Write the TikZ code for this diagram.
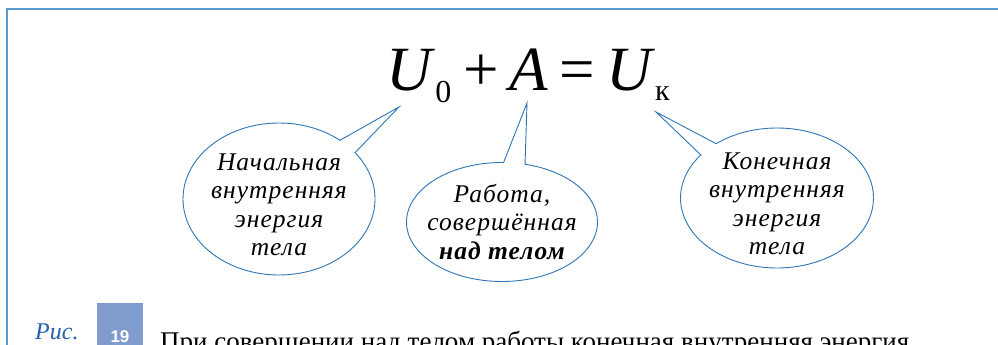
\documentclass[tikz,border=0pt]{standalone}
\usepackage{fontspec}
\setmainfont{Liberation Serif}
\newfontfamily\numfont{Liberation Sans}
\newfontfamily\bubblefont[LetterSpace=4]{Liberation Serif}
\usepackage{tikz}
\usetikzlibrary{shapes.callouts}
\definecolor{bubbleblue}{RGB}{46,117,182}
\definecolor{frameblue}{RGB}{91,155,213}
\definecolor{numblue}{RGB}{128,155,205}
\definecolor{ricblue}{RGB}{40,95,170}

\tikzset{
  bubble/.style={ellipse callout, draw=bubbleblue, line width=0.9pt,
    inner sep=0pt, callout pointer arc=13},
  bubbletext/.style={inner sep=0pt, align=center,
    font=\bubblefont\fontsize{25.5}{28.5}\selectfont\itshape}
}

\begin{document}
\begin{tikzpicture}[x=1pt,y=-1pt]
\useasboundingbox (0,0) rectangle (998,345);

% Frame
\draw[frameblue, line width=2pt] (6.5,345) -- (6.5,9) -- (998,9);

% Formula
\node[anchor=base, inner sep=0pt, font=\fontsize{63}{63}\selectfont] (formula) at (528,90)
  {\textit{U}\raisebox{-12pt}{\fontsize{32}{32}\selectfont 0}\hspace{12pt}+\hspace{11pt}\textit{A}\hspace{11pt}=\hspace{11pt}\textit{U}\raisebox{-10pt}{\fontsize{30}{30}\selectfont к}};

% Pointer tips
\coordinate (tipstart) at (399,107);
\coordinate (tipwork) at (527,103);
\coordinate (tipend) at (656,112);

% Bubbles
\node[bubble, minimum width=192pt, minimum height=152pt,
  callout absolute pointer={(tipstart)}] (startbubble) at (279,199) {};
\node[bubble, minimum width=191pt, minimum height=119pt,
  callout absolute pointer={(tipwork)}] (workbubble) at (502,222) {};
\node[bubble, minimum width=193pt, minimum height=140pt,
  callout absolute pointer={(tipend)}] (endbubble) at (777,198) {};

% Bubble texts
\node[bubbletext] (starttext) at (279,205) {Начальная\\внутренняя\\энергия\\тела};
\node[bubbletext] (worktext) at (502,222) {Работа,\\совершённая\\\textbf{над телом}};
\node[bubbletext] (endtext) at (777,204) {Конечная\\внутренняя\\энергия\\тела};

% Caption
\fill[numblue] (97,303) rectangle (143,345);
\node[anchor=base, inner sep=0pt, text=white, font=\numfont\bfseries\fontsize{17}{17}\selectfont] (fignum) at (120,342) {19};
\node[anchor=base west, inner sep=0pt, text=ricblue, font=\itshape\fontsize{24}{24}\selectfont] (figlabel) at (35,339) {Рис.};
\node[anchor=base west, inner sep=0pt, font=\fontsize{27}{27}\selectfont] (caption) at (160,350)
  {При совершении над телом работы конечная внутренняя энергия};

\end{tikzpicture}
\end{document}
